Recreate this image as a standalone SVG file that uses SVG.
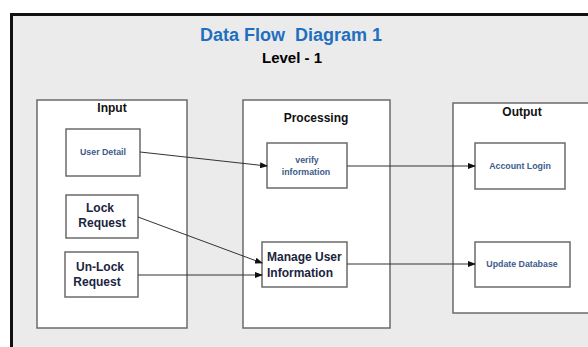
<svg xmlns="http://www.w3.org/2000/svg" width="588" height="347" viewBox="0 0 588 347">
<style>
.box{fill:#fff;stroke:#6b6b6b;stroke-width:1.5}
.t{font-family:"Liberation Sans",Arial,sans-serif;font-weight:bold;text-anchor:middle}
.h{font-size:12px;fill:#111}
.s{font-size:8.8px;fill:#3d5b8c}
.m{font-size:12px;fill:#1a2440}
.c{stroke:#333;stroke-width:1;fill:none;marker-end:url(#ah)}
</style>
<defs>
<marker id="ah" markerWidth="8" markerHeight="6" refX="7" refY="3" orient="auto" markerUnits="userSpaceOnUse">
<path d="M0,0 L8,3 L0,6 Z" fill="#111"/>
</marker>
</defs>
<rect x="0" y="0" width="588" height="347" fill="#fff"/>
<rect x="11.5" y="14.5" width="590" height="345" fill="#ebebeb" stroke="#111" stroke-width="3"/>
<text class="t" x="291" y="41" font-size="18" fill="#1f6fc0">Data Flow &#160;Diagram 1</text>
<text class="t" x="292" y="63" font-size="15" fill="#000">Level - 1</text>
<g id="input">
<rect class="box" x="37" y="100" width="150" height="228"/>
<text class="t h" x="112" y="112">Input</text>
</g>
<g id="processing">
<rect class="box" x="243" y="100" width="147" height="228"/>
<text class="t h" x="316" y="122">Processing</text>
</g>
<g id="output">
<rect class="box" x="453" y="103" width="140" height="210"/>
<text class="t h" x="522" y="116">Output</text>
</g>
<g id="user-detail">
<rect class="box" x="66" y="129" width="74" height="47"/>
<text class="t s" x="103" y="155">User Detail</text>
</g>
<g id="lock-request">
<rect class="box" x="66" y="195" width="72" height="43"/>
<text class="t m" x="100" y="212">Lock</text>
<text class="t m" x="102" y="227">Request</text>
</g>
<g id="unlock-request">
<rect class="box" x="65" y="252" width="73" height="45"/>
<text class="t m" x="100" y="271">Un-Lock</text>
<text class="t m" x="97" y="286">Request</text>
</g>
<g id="verify-information">
<rect class="box" x="267" y="143" width="80" height="45"/>
<text class="t s" x="307" y="163">verify</text>
<text class="t s" x="306" y="175">information</text>
</g>
<g id="manage-user-information">
<rect class="box" x="262" y="242" width="85" height="45"/>
<text class="t m" x="267" y="261" font-size="12.5" style="text-anchor:start">Manage User</text>
<text class="t m" x="267" y="277" font-size="12.5" style="text-anchor:start">Information</text>
</g>
<g id="account-login">
<rect class="box" x="475" y="143" width="90" height="46"/>
<text class="t s" x="520" y="169">Account Login</text>
</g>
<g id="update-database">
<rect class="box" x="475" y="242" width="95" height="45"/>
<text class="t s" x="522" y="267">Update Database</text>
</g>
<g id="connectors">
<path class="c" d="M140,152 L267,166"/>
<path class="c" d="M138,217 L262,263"/>
<path class="c" d="M138,275 L262,275"/>
<path class="c" d="M347,166 L475,166"/>
<path class="c" d="M347,264 L475,264"/>
</g>
</svg>
